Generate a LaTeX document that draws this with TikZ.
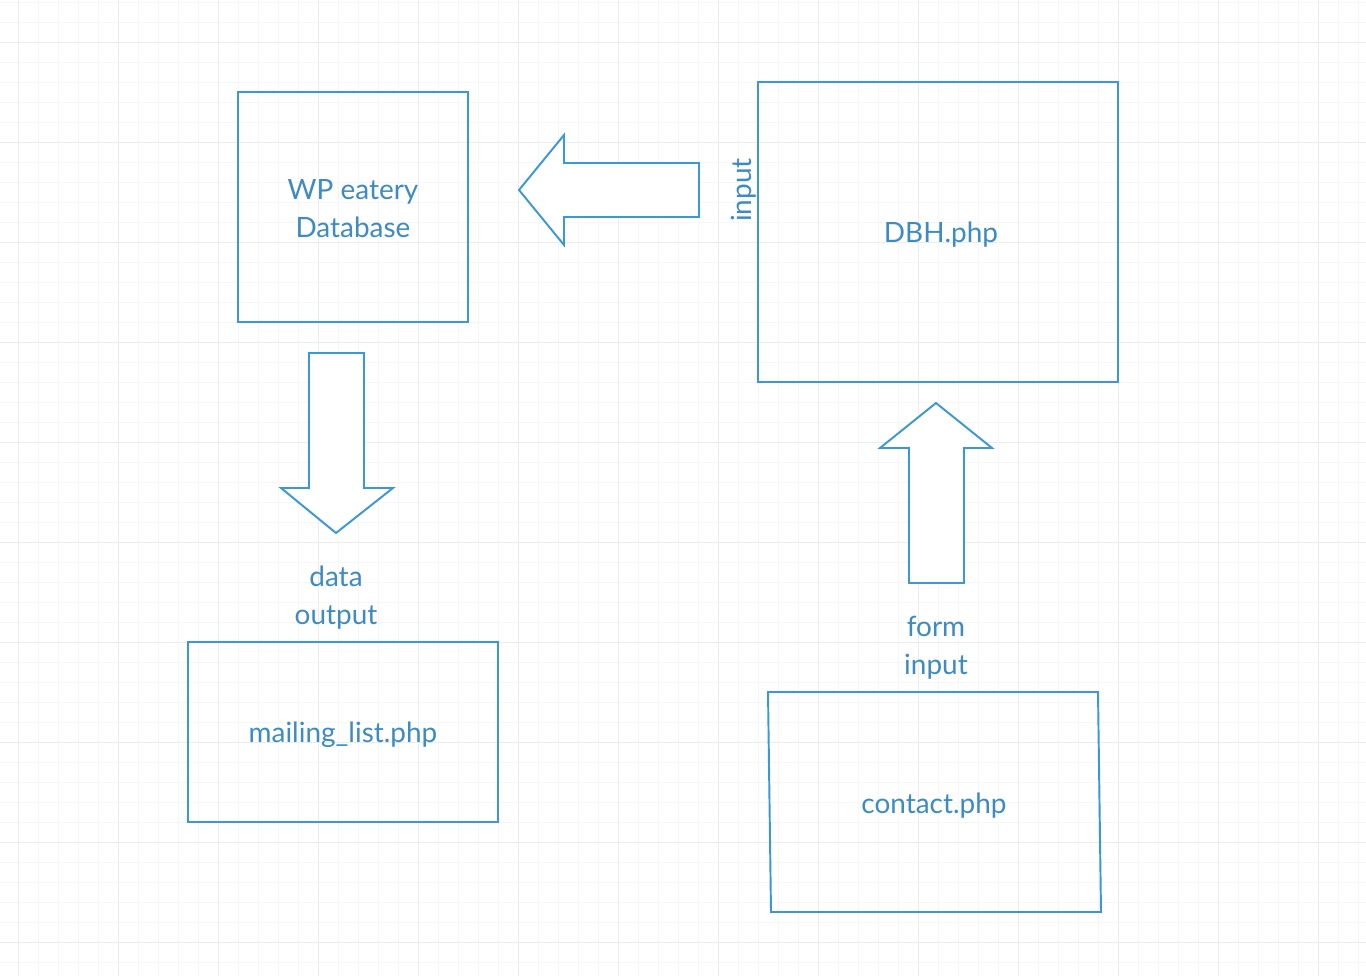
\documentclass[tikz,border=0pt]{standalone}
\usepackage{fontspec}
\setmainfont{Lato}
\usetikzlibrary{positioning}
\definecolor{lineblue}{HTML}{3A98D6}
\definecolor{textblue}{HTML}{3C8BC3}
\definecolor{gridminor}{HTML}{F6F6F6}
\definecolor{gridmajor}{HTML}{ECECEC}
\begin{document}
\begin{tikzpicture}[x = 0.02cm, y = -0.02cm,
box/.style = {shape = rectangle, draw = lineblue, line width = 1.1pt, text = textblue, align = center, inner sep = 0cm, font = \fontsize{15.9}{21.6}\selectfont},
lbl/.style = {text = textblue, align = center, inner sep = 0cm, font = \fontsize{15.9}{21.6}\selectfont},
blockarrow/.style = {draw = lineblue, line width = 1.1pt, fill = white, line join = miter},
minor/.style = {draw = gridminor, line width = 0.55pt},
major/.style = {draw = gridmajor, line width = 0.55pt},
]
\useasboundingbox (0, 0) rectangle (1366, 976);
\fill[white] (0, 0) rectangle (1366, 976);
% grid
\foreach \x in {18, 38, ..., 1366} \draw[minor] (\x, 0) -- (\x, 976);
\foreach \y in {2, 22, ..., 976} \draw[minor] (0, \y) -- (1366, \y);
\foreach \x in {18, 118, ..., 1366} \draw[major] (\x, 0) -- (\x, 976);
\foreach \y in {42, 142, ..., 976} \draw[major] (0, \y) -- (1366, \y);

\node[box, minimum width = 4.6cm, minimum height = 4.6cm] (db) at (353, 207) {};
\node[lbl] (dbtext) at (353, 209) {WP eatery\\Database};
\node[box, minimum width = 7.2cm, minimum height = 6cm] (dbh) at (938, 232) {};
\node[lbl] (dbhtext) at (941, 235) {DBH.php};
\node[lbl, rotate = 90] (inlbl) at (744, 190) {input};
\node[box, minimum width = 6.2cm, minimum height = 3.6cm] (mail) at (343, 732) {};
\node[lbl] (mailtext) at (343, 735) {mailing\_list.php};

\draw[lineblue, line width = 1.1pt] (768, 692) -- (1098, 692) -- (1101, 912) -- (771, 912) -- cycle;
\node[lbl] (contact) at (934, 806) {contact.php};

\node[lbl] (outlbl) at (336, 598) {data\\output};
\node[lbl] (formlbl) at (936, 648) {form\\input};

% block arrows
\draw[blockarrow] (699, 163) -- (564, 163) -- (564, 135) -- (519, 190) -- (564, 245) -- (564, 217) -- (699, 217) -- cycle;
\draw[blockarrow] (309, 353) -- (364, 353) -- (364, 488) -- (393, 488) -- (336, 533) -- (281, 488) -- (309, 488) -- cycle;
\draw[blockarrow] (909, 583) -- (909, 448) -- (880, 448) -- (936, 403) -- (992, 448) -- (964, 448) -- (964, 583) -- cycle;
\end{tikzpicture}
\end{document}
